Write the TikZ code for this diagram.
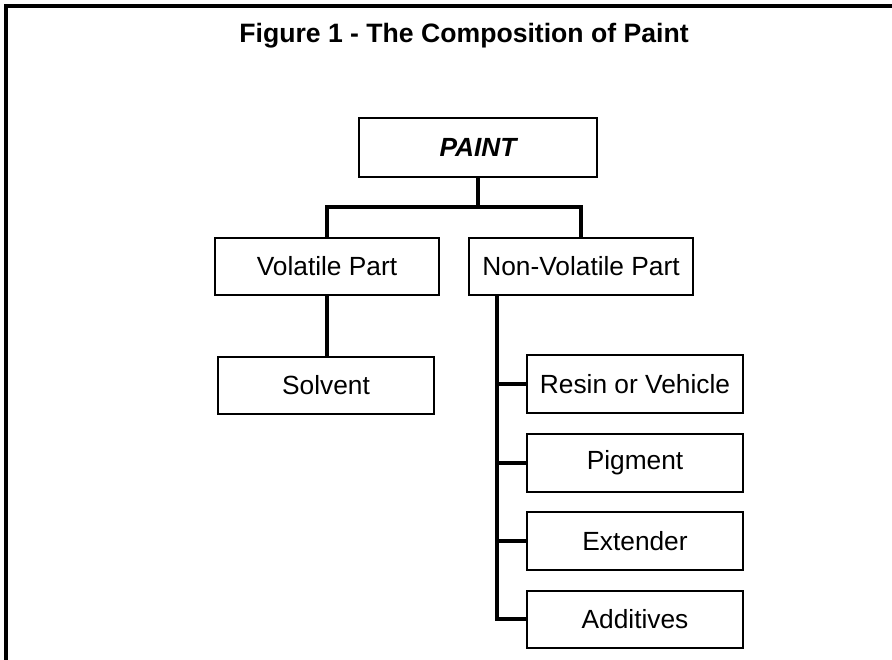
\documentclass[tikz,border=0pt]{standalone}
\usepackage{fontspec}
\setmainfont{Liberation Sans}
\begin{document}
\begin{tikzpicture}[x=1pt,y=-1pt,
  box/.style={draw,line width=2pt,fill=white,inner sep=0pt,font=\fontsize{26.3}{30}\selectfont},
  conn/.style={line width=4.5pt},
  frame/.style={line width=3.5pt}]
\useasboundingbox (0,0) rectangle (892,659);
\node[font=\bfseries\fontsize{26.6}{30}\selectfont,anchor=base] (title) at (464,42) {Figure 1 - The Composition of Paint};
\coordinate (fa) at (6,662);
\coordinate (fb) at (6,6);
\coordinate (fc) at (895,6);
\draw[frame] (fa) -- (fb) -- (fc);

\node[box,minimum width=238,minimum height=59,font=\bfseries\itshape\fontsize{26.3}{30}\selectfont] (paint) at (478,147) {PAINT};
\node[box,minimum width=224,minimum height=57] (vol) at (327,266) {Volatile Part};
\node[box,minimum width=224,minimum height=57] (nonvol) at (581,266) {Non-Volatile Part};
\node[box,minimum width=216,minimum height=57] (solv) at (326,385) {Solvent};
\node[box,minimum width=216,minimum height=58] (resin) at (635,384) {Resin or Vehicle};
\node[box,minimum width=216,minimum height=58] (pig) at (635,463) {Pigment};
\node[box,minimum width=216,minimum height=58] (ext) at (635,541) {Extender};
\node[box,minimum width=216,minimum height=57] (add) at (635,619) {Additives};

\coordinate (j) at (478,207);
\coordinate (t) at (497,294);
\draw[conn] (paint.south) -- (j);
\draw[conn] (vol.north) -- (vol.north |- j) -- (nonvol.north |- j) -- (nonvol.north);
\draw[conn] (vol.south) -- (vol.south |- solv.north);
\draw[conn] (t) |- (add.west);
\draw[conn] (t |- resin.west) -- (resin.west);
\draw[conn] (t |- pig.west) -- (pig.west);
\draw[conn] (t |- ext.west) -- (ext.west);
\end{tikzpicture}
\end{document}
